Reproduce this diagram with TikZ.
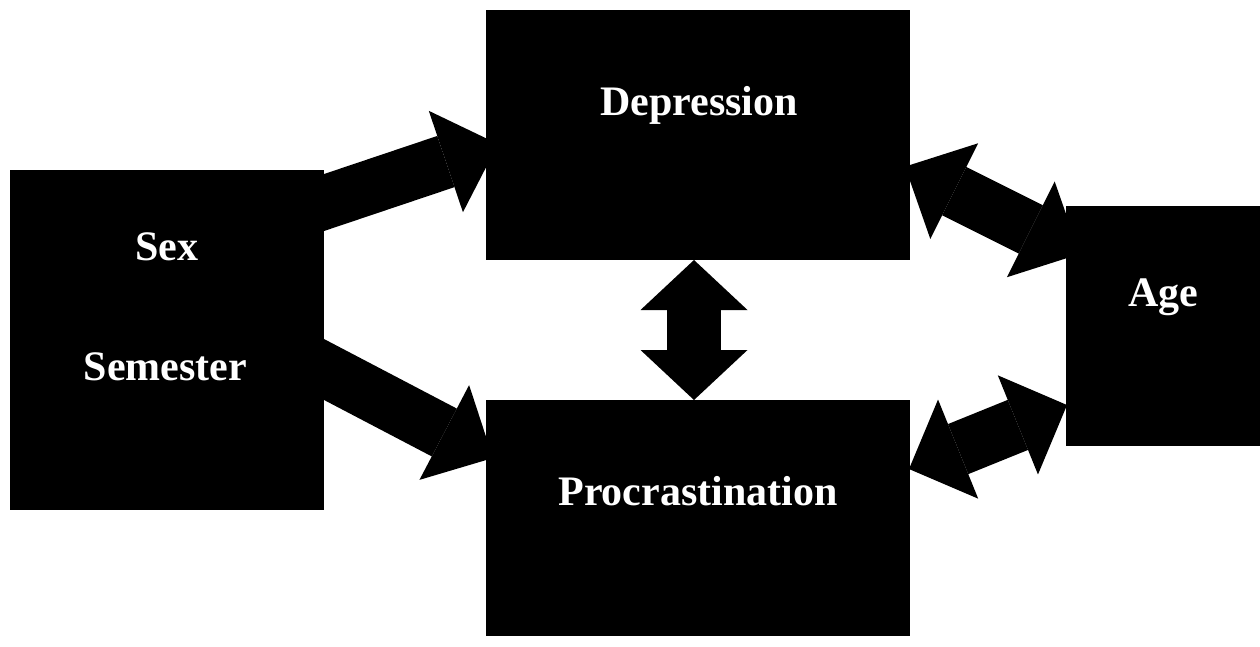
\documentclass[tikz,border=0pt]{standalone}
\usepackage{fontspec}
\setmainfont{Liberation Serif}
\usetikzlibrary{arrows.meta,backgrounds}
\tikzset{
  box/.style={fill=black, draw=none, inner sep=0pt, anchor=north west},
  lbl/.style={text=white, anchor=base, inner sep=0pt, font=\fontsize{42}{50}\selectfont\bfseries},
  blk/.style={line width=54pt, draw=black, line cap=butt,
    -{Triangle[width=107pt,length=#1,line width=0pt]}},
  blk/.default=55pt,
  dblk/.style={line width=54pt, draw=black, line cap=butt,
    {Triangle[width=107pt,length=#1,line width=0pt]}-{Triangle[width=107pt,length=#1,line width=0pt]}},
  dblk/.default=54pt
}
\begin{document}
\begin{tikzpicture}[x=1pt,y=-1pt]
\useasboundingbox (0,0) rectangle (1260,646);
% boxes
\node[box, minimum width=314pt, minimum height=340pt] (ss) at (10,170) {};
\node[box, minimum width=424.5pt, minimum height=250pt] (dep) at (485.5,10) {};
\node[box, minimum width=424.5pt, minimum height=236pt] (pro) at (485.5,400) {};
\node[box, minimum width=194pt, minimum height=240pt] (age) at (1066,205.7) {};
% labels
\node[lbl] (tsex) at (166.5,260) {Sex};
\node[lbl] (tsem) at (165.5,380) {Semester};
\node[lbl] (tdep) at (699,115) {Depression};
\node[lbl] (tpro) at (698,505) {Procrastination};
\node[lbl] (tage) at (1163,306) {Age};
% arrow end points
\coordinate (a1s) at (300,210.6);
\coordinate (a1e) at (498,144);
\coordinate (a2s) at (300,356.9);
\coordinate (a2e) at (493,458);
\coordinate (a3s) at (905,166.6);
\coordinate (a3e) at (1080,253.9);
\coordinate (a4s) at (909,469);
\coordinate (a4e) at (1067,405);
\coordinate (a5s) at (694,260);
\coordinate (a5e) at (694,400);
\begin{pgfonlayer}{background}
\draw[blk] (a1s) -- (a1e);
\draw[blk] (a2s) -- (a2e);
\draw[dblk=55pt] (a3s) -- (a3e);
\draw[dblk=53pt] (a4s) -- (a4e);
\draw[dblk=50pt] (a5s) -- (a5e);
\end{pgfonlayer}
\end{tikzpicture}
\end{document}
